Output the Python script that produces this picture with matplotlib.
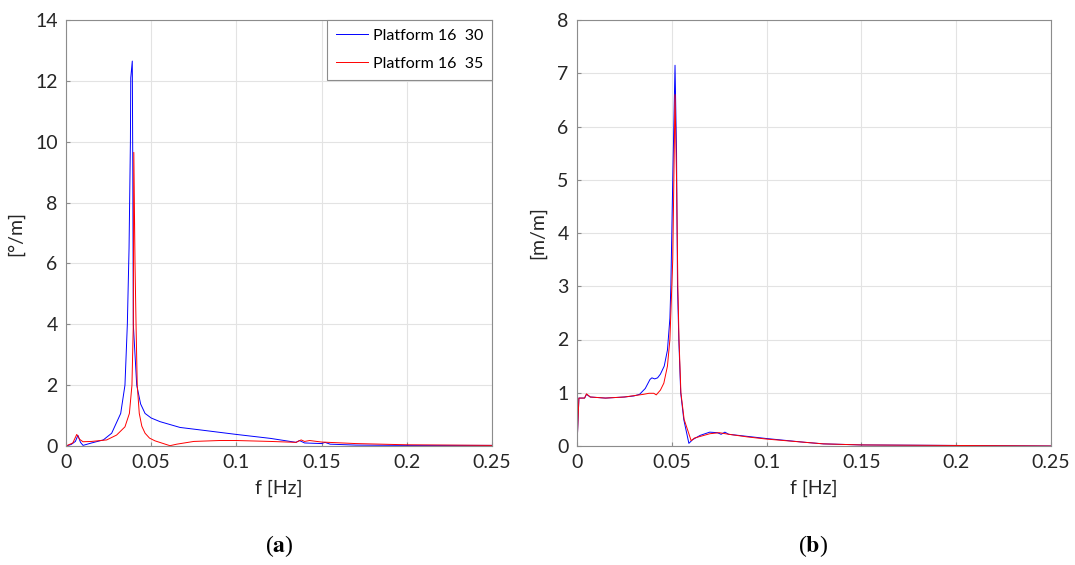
import matplotlib.pyplot as plt

plt.rcParams['font.family'] = ['Lato', 'DejaVu Sans']
plt.rcParams['mathtext.fontset'] = 'stix'

# (a) rotation response [deg/m]
f_a30 = [0, 0.003, 0.0055, 0.007, 0.0085, 0.01, 0.015, 0.0219, 0.0268, 0.0321, 0.0346,
         0.036, 0.037, 0.0378, 0.038, 0.0389, 0.0392, 0.0395, 0.0415, 0.0438, 0.0464,
         0.05, 0.0552, 0.0669, 0.08, 0.1, 0.12, 0.135, 0.137, 0.14, 0.15, 0.152, 0.155,
         0.17, 0.2, 0.25]
a30 = [0, 0.05, 0.15, 0.35, 0.12, 0.02, 0.1, 0.2, 0.42, 1.07, 2.0,
       4.0, 6.5, 10.0, 12.1, 12.65, 9.0, 4.0, 2.0, 1.38, 1.07,
       0.92, 0.8, 0.61, 0.52, 0.38, 0.25, 0.12, 0.18, 0.1, 0.08, 0.12, 0.06,
       0.03, 0.02, 0.02]
f_a35 = [0, 0.004, 0.0063, 0.008, 0.01, 0.015, 0.0239, 0.0297, 0.0346, 0.0372, 0.0387,
         0.0395, 0.0398, 0.0405, 0.0411, 0.0418, 0.043, 0.0445, 0.0464, 0.049, 0.0522,
         0.061, 0.065, 0.075, 0.09, 0.1, 0.12, 0.135, 0.138, 0.14, 0.143, 0.15, 0.17,
         0.2, 0.25]
a35 = [0, 0.1, 0.38, 0.22, 0.14, 0.15, 0.2, 0.36, 0.63, 1.07, 2.0,
       4.0, 9.65, 6.0, 4.0, 2.0, 1.07, 0.65, 0.42, 0.26, 0.17,
       0.01, 0.06, 0.15, 0.18, 0.18, 0.15, 0.12, 0.2, 0.15, 0.18, 0.13, 0.08,
       0.04, 0.02]

# (b) translation response [m/m]
f_b30 = [0, 0.001, 0.004, 0.005, 0.007, 0.015, 0.025, 0.03, 0.033, 0.036, 0.0385, 0.0395,
         0.041, 0.0425, 0.044, 0.046, 0.0477, 0.049, 0.0495, 0.0505, 0.0517, 0.0525, 0.053,
         0.0537, 0.0547, 0.0563, 0.059, 0.061, 0.065, 0.07, 0.074, 0.076, 0.078, 0.08, 0.09,
         0.1, 0.12, 0.13, 0.15, 0.2, 0.25]
b30 = [0, 0.9, 0.9, 0.97, 0.92, 0.9, 0.92, 0.94, 0.97, 1.08, 1.25, 1.28,
       1.26, 1.28, 1.35, 1.5, 1.8, 2.4, 3.0, 5.0, 7.15, 5.5, 3.0,
       2.0, 1.0, 0.5, 0.05, 0.12, 0.2, 0.26, 0.25, 0.22, 0.26, 0.22, 0.18,
       0.14, 0.07, 0.04, 0.02, 0.01, 0.0]
f_b35 = [0, 0.001, 0.004, 0.005, 0.007, 0.015, 0.025, 0.035, 0.038, 0.0405, 0.0418, 0.044,
         0.0458, 0.0477, 0.049, 0.0505, 0.0517, 0.0525, 0.0532, 0.0538, 0.0548, 0.0565,
         0.0602, 0.062, 0.07, 0.075, 0.08, 0.09, 0.1, 0.12, 0.13, 0.15, 0.25]
b35 = [0, 0.9, 0.9, 0.98, 0.92, 0.9, 0.92, 0.97, 0.99, 0.99, 0.96, 1.05,
       1.18, 1.5, 2.0, 3.5, 6.6, 5.0, 3.0, 2.0, 1.0, 0.5,
       0.1, 0.15, 0.23, 0.25, 0.22, 0.17, 0.13, 0.07, 0.04, 0.02, 0.0]

fig = plt.figure(figsize=(10.75, 5.65), dpi=100)
ax1 = fig.add_axes([66 / 1075, 1 - 446 / 565, 426 / 1075, 426 / 565])
ax2 = fig.add_axes([577 / 1075, 1 - 446 / 565, 474 / 1075, 426 / 565])

ax1.plot(f_a30, a30, color='#0000ff', lw=0.7, label='Platform 16  30')
ax1.plot(f_a35, a35, color='#ff0000', lw=0.7, label='Platform 16  35')
ax2.plot(f_b30, b30, color='#0000ff', lw=0.7)
ax2.plot(f_b35, b35, color='#ff0000', lw=0.7)

for ax, ymax, ylab in [(ax1, 14, '[°/m]'), (ax2, 8, '[m/m]')]:
    ax.set_xlim(0, 0.25)
    ax.set_ylim(0, ymax)
    ax.set_xticks([0, 0.05, 0.1, 0.15, 0.2, 0.25])
    ax.set_xticklabels(['0', '0.05', '0.1', '0.15', '0.2', '0.25'])
    ax.grid(True, color='#e3e3e3', lw=0.8)
    ax.set_axisbelow(True)
    for s in ax.spines.values():
        s.set_color('#8c8c8c')
        s.set_linewidth(0.8)
    ax.tick_params(direction='in', length=3, color='#8c8c8c', labelsize=14,
                   labelcolor='#262626', pad=6)
    ax.set_xlabel('f [Hz]', fontsize=14, color='#262626', labelpad=6)
    ax.set_ylabel(ylab, fontsize=14, color='#262626', labelpad=8)

leg = ax1.legend(loc='upper right', fontsize=11.5, fancybox=False, framealpha=1,
                 borderaxespad=0, handlelength=2.0, handletextpad=0.3,
                 borderpad=0.55, labelspacing=0.85)
leg.get_frame().set_edgecolor('#8c8c8c')
leg.get_frame().set_linewidth(0.8)

fig.text(279 / 1075, 1 - 546 / 565, r'($\mathbf{a}$)', fontsize=17, ha='center',
         va='center', family='Liberation Serif')
fig.text(813 / 1075, 1 - 546 / 565, r'($\mathbf{b}$)', fontsize=17, ha='center',
         va='center', family='Liberation Serif')

fig.savefig('out.png', dpi=100)
